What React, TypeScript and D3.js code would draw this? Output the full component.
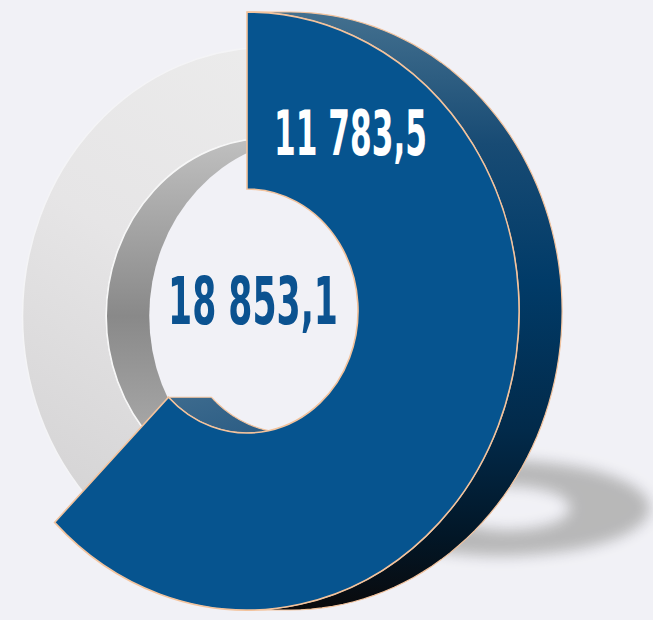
import * as d3 from 'd3'

// ─── Data ────────────────────────────────────────────────────────────────────

const partValue = 11783.5
const totalValue = 18853.1
const segmentKeys = ['part', 'total']

const ruFormat = d3.formatLocale({
  decimal: ',',
  thousands: '\u00a0',
  grouping: [3],
  currency: ['', ''],
}).format(',.1f')

// ─── Layout / theme ──────────────────────────────────────────────────────────

const W = 653
const H = 620
const BG = '#f1f1f6'
const EDGE = '#f3c39d'
const BLUE = '#06548f'
const DEPTH = 43

const blueRing = { cx: 247, cy: 311, sx: 0.91, outer: 299, inner: 122 }
const grayRing = { cx: 270, cy: 316, sx: 0.92, outer: 269, inner: 178 }

const angle = d3.scaleLinear().domain([0, totalValue]).range([0, 2 * Math.PI])

// point on a circle of radius r at angle a (0 = 12 o'clock, clockwise)
const pt = (a: number, r: number, dx = 0): [number, number] => [r * Math.sin(a) + dx, -r * Math.cos(a)]

function sweep(a0: number, a1: number, r: number, dx = 0) {
  const n = 80
  return d3.range(n + 1).map((i) => pt(a0 + ((a1 - a0) * i) / n, r, dx))
}

const line = d3.line()

export default function App() {
  const endA = angle(partValue)
  const localDepthB = DEPTH / blueRing.sx
  const localDepthG = DEPTH / grayRing.sx

  // blue front face
  const blueFace = d3.arc()({
    innerRadius: blueRing.inner,
    outerRadius: blueRing.outer,
    startAngle: 0,
    endAngle: endA,
  } as any) as string

  // blue outer wall (visible on the right half)
  const wallEnd = Math.min(endA, Math.PI)
  const outerWall =
    line([
      ...sweep(0, wallEnd, blueRing.outer, localDepthB),
      ...sweep(wallEnd, 0, blueRing.outer),
    ])! + 'Z'

  // blue inner wall (visible through the hole, lower-left)
  const innerWall =
    endA > Math.PI
      ? line([
          ...sweep(Math.PI, endA, blueRing.inner),
          ...sweep(endA, Math.PI, blueRing.inner, localDepthB),
        ])! + 'Z'
      : ''

  // gray ring face (full ring behind)
  const grayFace = d3.arc()({
    innerRadius: grayRing.inner,
    outerRadius: grayRing.outer,
    startAngle: 0,
    endAngle: 2 * Math.PI,
  } as any) as string

  const blueT = `translate(${blueRing.cx},${blueRing.cy}) scale(${blueRing.sx},1)`
  const grayT = `translate(${grayRing.cx},${grayRing.cy}) scale(${grayRing.sx},1)`

  return (
    <svg
      width={W}
      height={H}
      viewBox={`0 0 ${W} ${H}`}
      style={{ position: 'absolute', left: 0, top: 0, display: 'block', background: BG }}
      data-series={segmentKeys.join(',')}
    >
      <defs>
        <filter id="shadowBlur" x="-30%" y="-60%" width="160%" height="220%">
          <feGaussianBlur stdDeviation="7" />
        </filter>
        <linearGradient id="grayFace" x1="0.75" y1="0" x2="0.2" y2="1">
          <stop offset="0" stopColor="#ededed" />
          <stop offset="0.5" stopColor="#e6e5e6" />
          <stop offset="1" stopColor="#d2d1d2" />
        </linearGradient>
        <linearGradient id="grayWall" gradientUnits="userSpaceOnUse" x1="0" y1={-grayRing.inner} x2="0" y2={grayRing.inner}>
          <stop offset="0" stopColor="#c0c0c0" />
          <stop offset="0.5" stopColor="#898989" />
          <stop offset="0.85" stopColor="#a9a9a9" />
          <stop offset="1" stopColor="#b8b8b8" />
        </linearGradient>
        <linearGradient id="blueWall" gradientUnits="userSpaceOnUse" x1="0" y1={-blueRing.outer} x2="0" y2={blueRing.outer}>
          <stop offset="0" stopColor="#43708f" />
          <stop offset="0.22" stopColor="#184b74" />
          <stop offset="0.45" stopColor="#013b68" />
          <stop offset="0.7" stopColor="#022a4a" />
          <stop offset="0.88" stopColor="#021626" />
          <stop offset="1" stopColor="#0a0a0c" />
        </linearGradient>
        <linearGradient id="blueInner" x1="0" y1="0" x2="1" y2="1">
          <stop offset="0" stopColor="#3d6b8e" />
          <stop offset="1" stopColor="#2a5b83" />
        </linearGradient>
        <clipPath id="grayHole">
          <ellipse cx={0} cy={0} rx={grayRing.inner} ry={grayRing.inner} />
        </clipPath>
      </defs>

      {/* ground shadow */}
      <path
        d={`M${500 - 150},508 a150,48 0 1,0 300,0 a150,48 0 1,0 -300,0 Z M${508 - 62},508 a62,22 0 1,0 124,0 a62,22 0 1,0 -124,0 Z`}
        fill="#b5b5b5"
        fillRule="evenodd"
        filter="url(#shadowBlur)"
        opacity={0.95}
      />

      {/* gray ring */}
      <g transform={grayT}>
        <path d={grayFace} fill="url(#grayFace)" stroke="#f4f4f6" strokeWidth={1.5} vectorEffect="non-scaling-stroke" />
        <ellipse cx={0} cy={0} rx={grayRing.inner} ry={grayRing.inner} fill="url(#grayWall)" />
        <g clipPath="url(#grayHole)">
          <ellipse cx={localDepthG} cy={0} rx={grayRing.inner} ry={grayRing.inner} fill={BG} />
        </g>
        <ellipse
          cx={0}
          cy={0}
          rx={grayRing.inner}
          ry={grayRing.inner}
          fill="none"
          stroke="#f7f7f7"
          strokeWidth={1.5}
          vectorEffect="non-scaling-stroke"
        />
      </g>

      {/* blue segment */}
      <g transform={blueT}>
        <path d={outerWall} fill="url(#blueWall)" stroke={EDGE} strokeWidth={1.2} vectorEffect="non-scaling-stroke" />
        {innerWall && (
          <path d={innerWall} fill="url(#blueInner)" stroke={EDGE} strokeWidth={1.2} vectorEffect="non-scaling-stroke" />
        )}
        <path d={blueFace} fill={BLUE} stroke={EDGE} strokeWidth={1.6} vectorEffect="non-scaling-stroke" />
      </g>

      {/* labels */}
      <text
        x={274}
        y={155}
        fill="#ffffff"
        fontFamily="'Liberation Sans Narrow', 'DejaVu Sans Condensed', 'Roboto', sans-serif"
        fontWeight="bold"
        fontSize={62}
        textLength={153}
        lengthAdjust="spacingAndGlyphs"
      >
        {ruFormat(partValue)}
      </text>
      <text
        x={168}
        y={324}
        fill="#0b5290"
        fontFamily="'Liberation Sans Narrow', 'DejaVu Sans Condensed', 'Roboto', sans-serif"
        fontWeight="bold"
        fontSize={65}
        textLength={170}
        lengthAdjust="spacingAndGlyphs"
      >
        {ruFormat(totalValue)}
      </text>
    </svg>
  )
}
